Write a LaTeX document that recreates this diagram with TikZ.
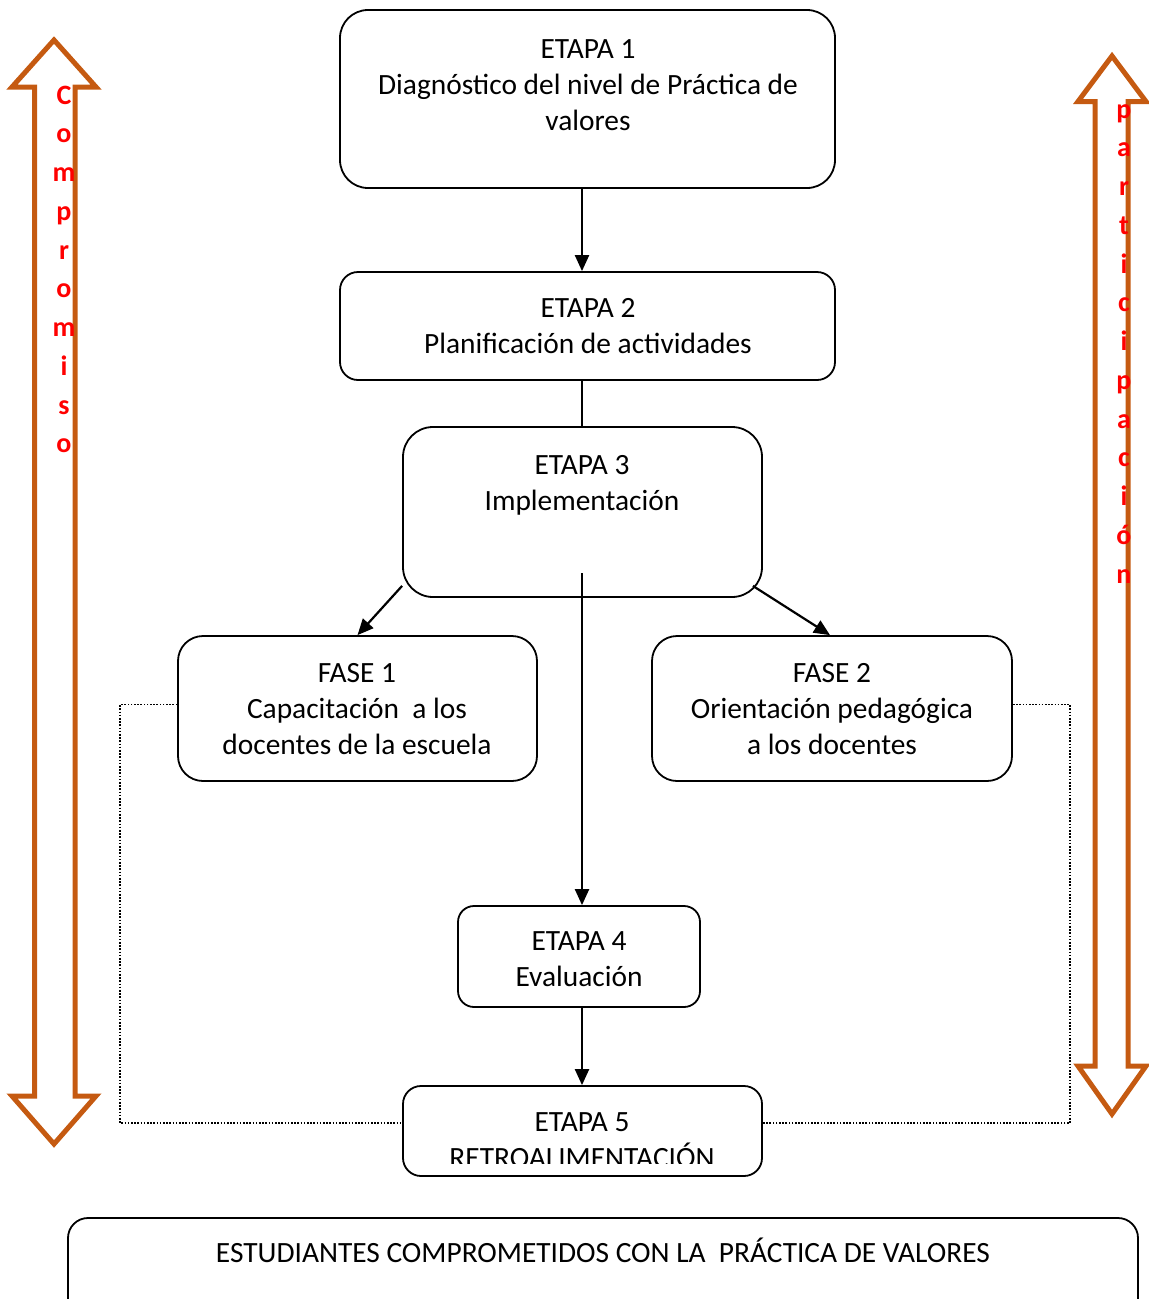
\documentclass[tikz,border=0pt]{standalone}
\usepackage{fontspec}
\setmainfont{Carlito}
\usetikzlibrary{arrows.meta}
\definecolor{flecha}{RGB}{197, 90, 17}
\definecolor{letra}{RGB}{255, 0, 0}
\tikzset{
  caja/.style={draw, line width=1.8pt, rounded corners=#1, inner sep=0pt},
  texto/.style={align=center, anchor=base, inner sep=0pt, font=\fontsize{29.4}{36}\selectfont},
  vertical/.style={align=center, anchor=base, inner sep=0pt, text=letra, font=\fontsize{28}{38.75}\selectfont\bfseries},
  flechanegra/.style={-{Triangle[length=16pt,width=14pt]}, line width=2.2pt},
  lineanegra/.style={line width=2.2pt},
  punteado/.style={line width=1.6pt, dash pattern=on 1.6pt off 1.6pt},
  dobleflecha/.style={draw=flecha, line width=5pt}
}

\begin{document}
\begin{tikzpicture}[x=1pt, y=-1pt]
      \useasboundingbox (0, 0) rectangle (1149, 1299);
      \clip (0, 0) rectangle (1149, 1299);
      \draw[dobleflecha] (54, 40) -- (96, 87) -- (75, 87) -- (75, 1096) -- (96, 1096) -- (54, 1144)
        -- (12, 1096) -- (34.5, 1096) -- (34.5, 87) -- (12, 87) -- cycle;
      \draw[dobleflecha] (1112, 56) -- (1146, 101.5) -- (1128, 101.5) -- (1128, 1066) -- (1146, 1066) -- (1112, 1114)
        -- (1078, 1066) -- (1095, 1066) -- (1095, 101.5) -- (1078, 101.5) -- cycle;
      \node[vertical] (comp) at (64, 452.75) {C\\o\\m\\p\\r\\o\\m\\i\\s\\o};
      \node[vertical] (part) at (1124, 583) {p\\a\\r\\t\\i\\c\\i\\p\\a\\c\\i\\ó\\n};
      \node[caja=28pt, minimum width=495pt, minimum height=178pt] (e1) at (587.5, 99) {};
      \node[caja=18pt, minimum width=495pt, minimum height=108pt] (e2) at (587.5, 326) {};
      \node[caja=30pt, minimum width=359pt, minimum height=170pt] (e3) at (582.5, 512) {};
      \node[caja=25pt, minimum width=359pt, minimum height=145pt] (f1) at (357.5, 708.5) {};
      \node[caja=25pt, minimum width=360pt, minimum height=145pt] (f2) at (832, 708.5) {};
      \node[caja=16pt, minimum width=242pt, minimum height=101pt] (e4) at (579, 956.5) {};
      \node[caja=18pt, minimum width=359pt, minimum height=90pt] (e5) at (582.5, 1131) {};
      \node[caja=20pt, minimum width=1070pt, minimum height=104pt] (fin) at (603, 1270) {};
      \node[texto] (t1) at (588, 130) {ETAPA 1\\Diagnóstico del nivel de Práctica de\\valores};
      \node[texto] (t2) at (588, 353) {ETAPA 2\\Planificación de actividades};
      \node[texto] (t3) at (582, 510) {ETAPA 3\\Implementación};
      \node[texto] (tf1) at (357, 754) {FASE 1\\Capacitación\ \ a los\\docentes de la escuela};
      \node[texto] (tf2) at (832, 754) {FASE 2\\Orientación pedagógica\\a los docentes};
      \node[texto] (t4) at (579, 986) {ETAPA 4\\Evaluación};
      \begin{scope}
        \clip (403, 1086) rectangle (762, 1163);
        \node[texto] (t5) at (582, 1167) {ETAPA 5\\RETROALIMENTACIÓN};
      \end{scope}
      \node[texto] (tfin) at (603, 1262) {ESTUDIANTES COMPROMETIDOS CON LA\ \ PRÁCTICA DE VALORES};
      \coordinate (c3) at (582, 573);
      \draw[flechanegra] (e1.south -| c3) -- (e2.north -| c3);
      \draw[lineanegra] (e2.south -| c3) -- (e3.north -| c3);
      \draw[flechanegra] (c3) -- (e4.north -| c3);
      \draw[flechanegra] ([yshift=12pt]e3.south west) -- (f1.north);
      \draw[flechanegra] ([xshift=-10pt, yshift=12pt]e3.south east) -- ([xshift=-2pt]f2.north);
      \draw[flechanegra] (e4.south -| c3) -- (e5.north -| c3);
      \draw[punteado] ([yshift=4pt]f1.west) -- ++(-57, 0) |- ([yshift=8pt]e5.west);
      \draw[punteado] ([yshift=4pt]f2.east) -- ++(57, 0) |- ([yshift=8pt]e5.east);
    \end{tikzpicture}
\end{document}
